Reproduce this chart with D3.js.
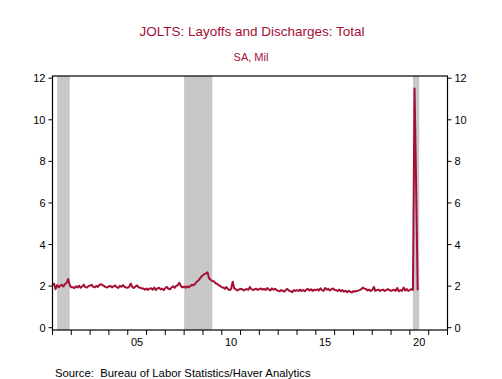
<!DOCTYPE html>
<html>
<head>
<meta charset="utf-8">
<script src="https://cdn.jsdelivr.net/npm/d3@7"></script>
<style>
  body { margin: 0; background: #fff; }
  svg { display: block; font-family: "Liberation Sans", Arial, sans-serif; }
</style>
</head>
<body>
<div id="chart"></div>
<script>
// monthly layoffs & discharges (mil), Dec 2000 .. May 2020
var startMonth = new Date(2000, 11, 1);
var layoffs = [
  2.05,
  2.12, 1.85, 2.05, 1.95, 2.02, 2.06, 1.98, 2.10, 2.15, 2.34, 2.05, 1.94,
  1.95, 1.90, 1.99, 1.94, 2.02, 1.92, 1.98, 2.07, 1.95, 1.93, 2.00, 2.03,
  2.06, 1.97, 1.94, 2.01, 1.96, 2.06, 2.09, 2.05, 2.00, 1.95, 1.93, 1.99,
  2.01, 1.94, 1.99, 2.03, 1.95, 1.91, 2.01, 1.97, 2.05, 1.96, 1.93, 1.92,
  1.98, 2.12, 1.95, 1.91, 1.99, 2.03, 1.94, 1.92, 1.89, 1.88, 1.83, 1.88,
  1.82, 1.88, 1.90, 1.83, 1.93, 1.81, 1.89, 1.92, 1.84, 1.88, 1.81, 1.91,
  1.96, 1.87, 1.85, 1.93, 1.99, 1.92, 2.01, 2.05, 2.16, 2.00, 1.94, 1.98,
  1.92, 1.99, 1.94, 2.01, 2.06, 2.04, 2.11, 2.21, 2.26, 2.36, 2.46, 2.52,
  2.58, 2.61, 2.66, 2.36, 2.31, 2.24, 2.23, 2.14, 2.11, 2.04, 2.01, 1.94,
  1.93, 1.87, 1.96, 1.85, 1.81, 1.86, 2.21, 1.89, 1.84, 1.79, 1.84, 1.87,
  1.85, 1.79, 1.83, 1.86, 1.82, 1.96, 1.85, 1.81, 1.85, 1.87, 1.82, 1.86,
  1.89, 1.83, 1.87, 1.81, 1.91, 1.84, 1.79, 1.89, 1.83, 1.87, 1.81, 1.77,
  1.75, 1.81, 1.77, 1.73, 1.83, 1.86, 1.77, 1.75, 1.71, 1.81, 1.77, 1.81,
  1.77, 1.83, 1.77, 1.81, 1.75, 1.83, 1.87, 1.79, 1.85, 1.77, 1.83, 1.80,
  1.85, 1.79, 1.89, 1.81, 1.77, 1.91, 1.83, 1.87, 1.79, 1.85, 1.89, 1.81,
  1.80, 1.77, 1.83, 1.75, 1.81, 1.73, 1.78, 1.71, 1.77, 1.73, 1.69, 1.76,
  1.73, 1.77, 1.78, 1.81, 1.85, 1.93, 1.88, 1.86, 1.79, 1.83, 1.77, 1.81,
  1.96, 1.77, 1.81, 1.83, 1.77, 1.81, 1.83, 1.77, 1.81, 1.86, 1.81, 1.77,
  1.80, 1.83, 1.77, 1.91, 1.75, 1.81, 1.77, 1.93, 1.79, 1.86, 1.77, 1.81,
  1.86, 1.82, 11.50, 7.00, 1.80
];

// recession shading [start, end]
var recessions = [
  [new Date(2001, 3, 1), new Date(2001, 11, 1)],
  [new Date(2008, 0, 1), new Date(2009, 6, 1)],
  [new Date(2020, 2, 1), new Date(2020, 6, 1)]
];

var yTicks = [0, 2, 4, 6, 8, 10, 12];
var xLabels = ["05", "10", "15", "20"];
var xLabelYears = [2005, 2010, 2015, 2020];

var width = 502,
    height = 379,
    frame = {left: 52.5, right: 447.5, top: 76, bottom: 330};

var red = "#a50f35";

var data = layoffs.map(function(v, i) {
  // plotted at end of month
  return {date: d3.timeMonth.offset(startMonth, i + 1), value: v};
});

var x = d3.scaleTime()
    .domain([new Date(2001, 0, 1), new Date(2022, 0, 1)])
    .range([frame.left, frame.right]);

var y = d3.scaleLinear()
    .domain([0, 12])
    .range([327.7, 78.2]);

var svg = d3.select("#chart").append("svg")
    .attr("width", width)
    .attr("height", height);

// titles
svg.append("text")
    .attr("x", 252).attr("y", 36)
    .attr("text-anchor", "middle")
    .style("font-size", "13.5px")
    .style("fill", red)
    .text("JOLTS: Layoffs and Discharges: Total");

svg.append("text")
    .attr("x", 251).attr("y", 61)
    .attr("text-anchor", "middle")
    .style("font-size", "11px")
    .style("fill", red)
    .text("SA, Mil");

// recession bars
svg.selectAll("rect.rec")
    .data(recessions)
  .enter().append("rect")
    .attr("class", "rec")
    .attr("x", function(d) { return x(d[0]); })
    .attr("width", function(d) { return x(d[1]) - x(d[0]); })
    .attr("y", frame.top)
    .attr("height", frame.bottom - frame.top)
    .style("fill", "#c8c8c8");

// series
var line = d3.line()
    .x(function(d) { return x(d.date); })
    .y(function(d) { return y(d.value); });

svg.append("path")
    .datum(data)
    .attr("d", line)
    .style("fill", "none")
    .style("stroke", red)
    .style("stroke-width", 2)
    .style("stroke-linejoin", "round");

// frame
svg.append("rect")
    .attr("x", frame.left).attr("y", frame.top)
    .attr("width", frame.right - frame.left)
    .attr("height", frame.bottom - frame.top)
    .style("fill", "none")
    .style("stroke", "#000")
    .style("stroke-width", 1.2);

// left axis
var left = svg.append("g");
left.selectAll("line")
    .data(yTicks)
  .enter().append("line")
    .attr("x1", frame.left - 4).attr("x2", frame.left)
    .attr("y1", function(d) { return y(d); })
    .attr("y2", function(d) { return y(d); })
    .style("stroke", "#000");
left.selectAll("text")
    .data(yTicks)
  .enter().append("text")
    .attr("x", frame.left - 7)
    .attr("y", function(d) { return y(d) + 4; })
    .attr("text-anchor", "end")
    .style("font-size", "11px")
    .text(function(d) { return d; });

// right axis
var right = svg.append("g");
right.selectAll("line")
    .data(yTicks)
  .enter().append("line")
    .attr("x1", frame.right).attr("x2", frame.right + 4)
    .attr("y1", function(d) { return y(d); })
    .attr("y2", function(d) { return y(d); })
    .style("stroke", "#000");
right.selectAll("text")
    .data(yTicks)
  .enter().append("text")
    .attr("x", frame.right + 7)
    .attr("y", function(d) { return y(d) + 4; })
    .style("font-size", "11px")
    .text(function(d) { return d; });

// bottom axis: year ticks, labels centred in year
var years = d3.timeYear.range(new Date(2001, 0, 1), new Date(2022, 0, 2));
svg.append("g").selectAll("line")
    .data(years)
  .enter().append("line")
    .attr("x1", function(d) { return x(d); })
    .attr("x2", function(d) { return x(d); })
    .attr("y1", frame.bottom)
    .attr("y2", frame.bottom + 5)
    .style("stroke", "#000");

svg.append("g").selectAll("text")
    .data(xLabels)
  .enter().append("text")
    .attr("x", function(d, i) { return x(new Date(xLabelYears[i], 6, 1)); })
    .attr("y", frame.bottom + 16)
    .attr("text-anchor", "middle")
    .style("font-size", "11px")
    .text(function(d) { return d; });

// source
svg.append("text")
    .attr("x", 55).attr("y", 377)
    .style("font-size", "11.3px")
    .attr("xml:space", "preserve")
    .style("white-space", "pre")
    .text("Source:  Bureau of Labor Statistics/Haver Analytics");
</script>
</body>
</html>
